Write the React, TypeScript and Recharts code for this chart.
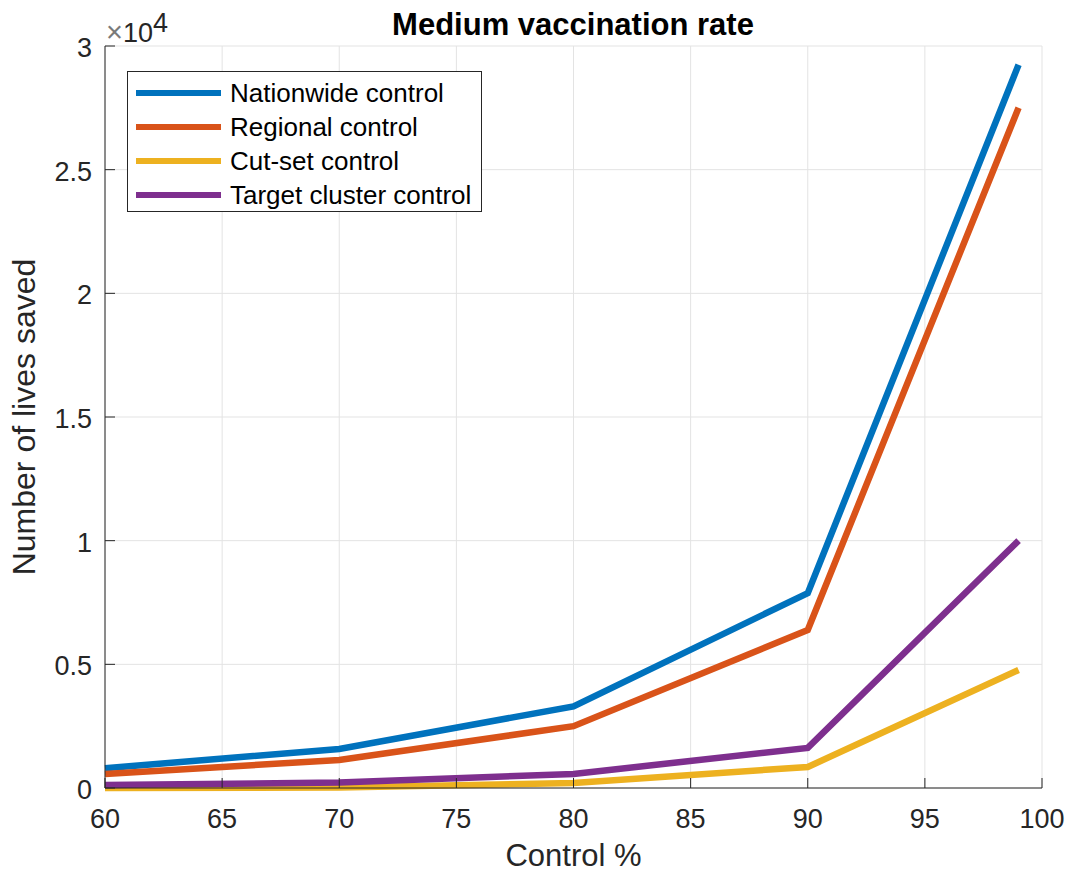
import { CartesianGrid, Line, LineChart, XAxis, YAxis } from 'recharts'

const controlPct = [60, 70, 80, 90, 99]
const nationwide = [800, 1580, 3300, 7880, 29240]
const regional = [570, 1130, 2500, 6390, 27500]
const cutSet = [0, 20, 200, 850, 4770]
const targetCluster = [120, 220, 570, 1620, 10000]

const xTicks = [60, 65, 70, 75, 80, 85, 90, 95, 100]
const yTicks = [0, 5000, 10000, 15000, 20000, 25000, 30000]

const series = [
  { key: 'nationwide', name: 'Nationwide control', color: '#0072BD' },
  { key: 'regional', name: 'Regional control', color: '#D95319' },
  { key: 'cutSet', name: 'Cut-set control', color: '#EDB120' },
  { key: 'targetCluster', name: 'Target cluster control', color: '#7E2F8E' },
]

const data = controlPct.map((x, i) => ({
  x,
  nationwide: nationwide[i],
  regional: regional[i],
  cutSet: cutSet[i],
  targetCluster: targetCluster[i],
}))

const FONT = '"Liberation Sans", Arial, sans-serif'
const INK = '#262626'

function XTick({ x, y, payload }: any) {
  return (
    <g>
      <line x1={x} x2={x} y1={y} y2={y - 10} stroke={INK} />
      <text x={x} y={y + 40} textAnchor="middle" fill={INK} fontSize={27} fontFamily={FONT}>
        {payload.value}
      </text>
    </g>
  )
}

function YTick({ x, y, payload }: any) {
  return (
    <g>
      <line x1={x} x2={x + 10} y1={y} y2={y} stroke={INK} />
      <text x={x - 13} y={y + 11} textAnchor="end" fill={INK} fontSize={27} fontFamily={FONT}>
        {payload.value / 10000}
      </text>
    </g>
  )
}

function LegendBox() {
  return (
    <div
      style={{
        position: 'absolute',
        left: 127,
        top: 71,
        width: 355,
        height: 141,
        boxSizing: 'border-box',
        border: '1.5px solid #262626',
        background: '#fff',
        paddingTop: 4,
        paddingLeft: 8,
        fontFamily: FONT,
        fontSize: 26,
        color: '#000',
      }}
    >
      {series.map((s) => (
        <div key={s.key} style={{ display: 'flex', alignItems: 'center', height: 34 }}>
          <div style={{ width: 85, height: 6, background: s.color, marginRight: 9 }} />
          <span>{s.name}</span>
        </div>
      ))}
    </div>
  )
}

export default function App() {
  return (
    <div style={{ position: 'absolute', left: 0, top: 0, width: 1070, height: 875, background: '#fff' }}>
      <LineChart
        width={1070}
        height={875}
        data={data}
        margin={{ left: 45, right: 28, top: 46, bottom: 37 }}
      >
        <CartesianGrid stroke="#e3e3e3" />
        <XAxis
          dataKey="x"
          type="number"
          domain={[60, 100]}
          ticks={xTicks}
          height={50}
          tickSize={0}
          tickMargin={0}
          tickLine={false}
          axisLine={{ stroke: INK }}
          tick={<XTick />}
          interval={0}
          label={({ viewBox }: any) => (
            <text
              x={viewBox.x + viewBox.width / 2}
              y={866}
              textAnchor="middle"
              fill={INK}
              fontSize={31}
              fontFamily={FONT}
            >
              Control %
            </text>
          )}
        />
        <YAxis
          type="number"
          domain={[0, 30000]}
          ticks={yTicks}
          width={60}
          tickSize={0}
          tickMargin={0}
          tickLine={false}
          axisLine={{ stroke: INK }}
          tick={<YTick />}
          interval={0}
          label={({ viewBox }: any) => (
            <text
              x={0}
              y={0}
              transform={`translate(35, ${viewBox.y + viewBox.height / 2}) rotate(-90)`}
              textAnchor="middle"
              fill={INK}
              fontSize={32}
              fontFamily={FONT}
            >
              Number of lives saved
            </text>
          )}
        />
        {series.map((s) => (
          <Line
            key={s.key}
            type="linear"
            dataKey={s.key}
            name={s.name}
            stroke={s.color}
            strokeWidth={6.5}
            dot={false}
            isAnimationActive={false}
          />
        ))}
      </LineChart>
      <svg
        width={1070}
        height={60}
        style={{ position: 'absolute', left: 0, top: 0, pointerEvents: 'none' }}
      >
        <text x={573} y={35} textAnchor="middle" fontFamily={FONT} fontWeight="bold" fontSize={31} fill="#000">
          Medium vaccination rate
        </text>
        <text x={106} y={42} fontFamily={FONT} fontSize={27} fill={INK}>
          <tspan fill="#7a7a7a" fontSize={29}>×</tspan>
          <tspan>10</tspan>
          <tspan dy={-10}>4</tspan>
        </text>
      </svg>
      <LegendBox />
    </div>
  )
}
